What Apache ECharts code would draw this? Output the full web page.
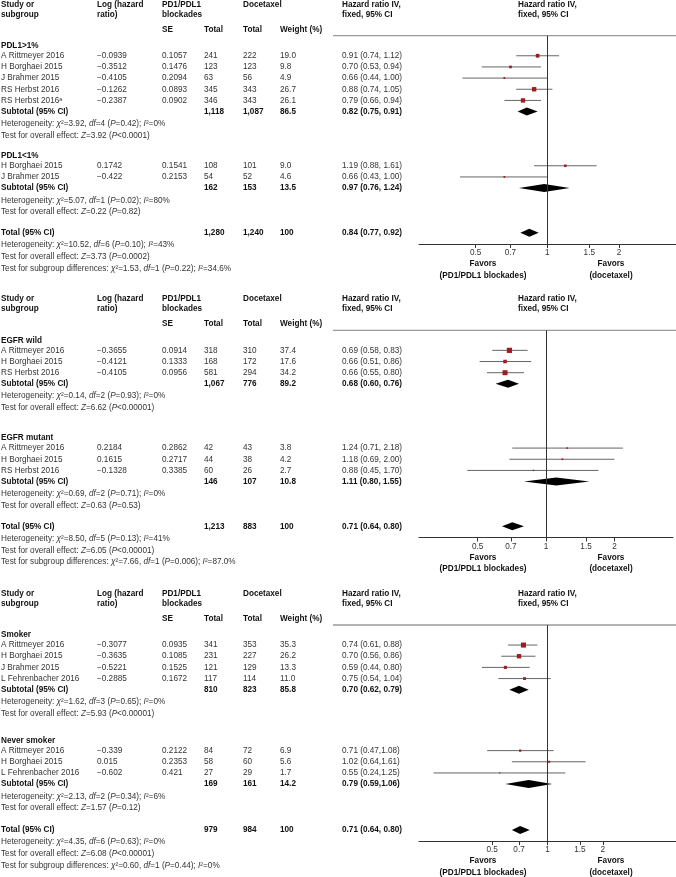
<!DOCTYPE html>
<html><head><meta charset="utf-8">
<script src="https://cdn.jsdelivr.net/npm/echarts@6/dist/echarts.min.js"></script>
<style>html,body{margin:0;padding:0;background:#fff}#c{width:676px;height:877px}</style>
</head><body><div id="c"></div><script>
// ================= DATA =================
// Panel 1 – PD-L1 expression
const p1Groups = ['PDL1>1%', 'PDL1<1%'];
const p1Study = ['A Rittmeyer 2016','H Borghaei 2015','J Brahmer 2015','RS Herbst 2016','RS Herbst 2016\u1d43','H Borghaei 2015','J Brahmer 2015'];
const p1GroupOf = [0,0,0,0,0,1,1];
const p1LogHR = ['\u22120.0939','\u22120.3512','\u22120.4105','\u22120.1262','\u22120.2387','0.1742','\u22120.422'];
const p1SE = ['0.1057','0.1476','0.2094','0.0893','0.0902','0.1541','0.2153'];
const p1NTrt = ['241','123','63','345','346','108','54'];
const p1NCtl = ['222','123','56','343','343','101','52'];
const p1Weight = [19.0, 9.8, 4.9, 26.7, 26.1, 9.0, 4.6];
const p1HR = [0.91, 0.70, 0.66, 0.88, 0.79, 1.19, 0.66];
const p1Lo = [0.74, 0.53, 0.44, 0.74, 0.66, 0.88, 0.43];
const p1Hi = [1.12, 0.94, 1.00, 1.05, 0.94, 1.61, 1.00];
const p1SubNTrt = ['1,118','162'];
const p1SubNCtl = ['1,087','153'];
const p1SubWeight = ['86.5','13.5'];
const p1SubHR = [0.82, 0.97];
const p1SubLo = [0.75, 0.76];
const p1SubHi = [0.91, 1.24];
const p1SubHet = [['3.92','4','=0.42','0%'], ['5.07','1','=0.02','80%']];
const p1SubZ = [['3.92','<0.0001'], ['0.22','=0.82']];
const p1Total = ['1,280','1,240','100'];
const p1TotHR = [0.84, 0.77, 0.92];
const p1TotHet = ['10.52','6','=0.10','43%'];
const p1TotZ = ['3.73','=0.0002'];
const p1SubDiff = ['1.53','1','=0.22','34.6%'];

// Panel 2 – EGFR status
const p2Groups = ['EGFR wild', 'EGFR mutant'];
const p2Study = ['A Rittmeyer 2016','H Borghaei 2015','RS Herbst 2016','A Rittmeyer 2016','H Borghaei 2015','RS Herbst 2016'];
const p2GroupOf = [0,0,0,1,1,1];
const p2LogHR = ['\u22120.3655','\u22120.4121','\u22120.4105','0.2184','0.1615','\u22120.1328'];
const p2SE = ['0.0914','0.1333','0.0956','0.2862','0.2717','0.3385'];
const p2NTrt = ['318','168','581','42','44','60'];
const p2NCtl = ['310','172','294','43','38','26'];
const p2Weight = [37.4, 17.6, 34.2, 3.8, 4.2, 2.7];
const p2HR = [0.69, 0.66, 0.66, 1.24, 1.18, 0.88];
const p2Lo = [0.58, 0.51, 0.55, 0.71, 0.69, 0.45];
const p2Hi = [0.83, 0.86, 0.80, 2.18, 2.00, 1.70];
const p2SubNTrt = ['1,067','146'];
const p2SubNCtl = ['776','107'];
const p2SubWeight = ['89.2','10.8'];
const p2SubHR = [0.68, 1.11];
const p2SubLo = [0.60, 0.80];
const p2SubHi = [0.76, 1.55];
const p2SubHet = [['0.14','2','=0.93','0%'], ['0.69','2','=0.71','0%']];
const p2SubZ = [['6.62','<0.00001'], ['0.63','=0.53']];
const p2Total = ['1,213','883','100'];
const p2TotHR = [0.71, 0.64, 0.80];
const p2TotHet = ['8.50','5','=0.13','41%'];
const p2TotZ = ['6.05','<0.00001'];
const p2SubDiff = ['7.66','1','=0.006','87.0%'];

// Panel 3 – smoking status
const p3Groups = ['Smoker', 'Never smoker'];
const p3Study = ['A Rittmeyer 2016','H Borghaei 2015','J Brahmer 2015','L Fehrenbacher 2016','A Rittmeyer 2016','H Borghaei 2015','L Fehrenbacher 2016'];
const p3GroupOf = [0,0,0,0,1,1,1];
const p3LogHR = ['\u22120.3077','\u22120.3635','\u22120.5221','\u22120.2885','\u22120.339','0.015','\u22120.602'];
const p3SE = ['0.0935','0.1085','0.1525','0.1672','0.2122','0.2353','0.421'];
const p3NTrt = ['341','231','121','117','84','58','27'];
const p3NCtl = ['353','227','129','114','72','60','29'];
const p3Weight = [35.3, 26.2, 13.3, 11.0, 6.9, 5.6, 1.7];
const p3HR = [0.74, 0.70, 0.59, 0.75, 0.71, 1.02, 0.55];
const p3Lo = [0.61, 0.56, 0.44, 0.54, 0.47, 0.64, 0.24];
const p3Hi = [0.88, 0.86, 0.80, 1.04, 1.08, 1.61, 1.25];
const p3SubNTrt = ['810','169'];
const p3SubNCtl = ['823','161'];
const p3SubWeight = ['85.8','14.2'];
const p3SubHR = [0.70, 0.79];
const p3SubLo = [0.62, 0.59];
const p3SubHi = [0.79, 1.06];
const p3SubHet = [['1.62','3','=0.65','0%'], ['2.13','2','=0.34','6%']];
const p3SubZ = [['5.93','<0.00001'], ['1.57','=0.12']];
const p3Total = ['979','984','100'];
const p3TotHR = [0.71, 0.64, 0.80];
const p3TotHet = ['4.35','6','=0.63','0%'];
const p3TotZ = ['6.08','<0.00001'];
const p3SubDiff = ['0.60','1','=0.44','0%'];
const p3CiSep = [', ', ','];   // separator used in the CI text per subgroup

// Axis tick values and header labels
const axisTicks = [0.5, 0.7, 1, 1.5, 2];
const favorsLeft = ['Favors', '(PD1/PDL1 blockades)'];
const favorsRight = ['Favors', '(docetaxel)'];

// ================= PANEL CONFIG =================
const panels = [
  {groups:p1Groups, study:p1Study, groupOf:p1GroupOf, logHR:p1LogHR, se:p1SE, nT:p1NTrt, nC:p1NCtl, w:p1Weight,
   hr:p1HR, lo:p1Lo, hi:p1Hi, subNT:p1SubNTrt, subNC:p1SubNCtl, subW:p1SubWeight, subHR:p1SubHR, subLo:p1SubLo, subHi:p1SubHi,
   subHet:p1SubHet, subZ:p1SubZ, total:p1Total, totHR:p1TotHR, totHet:p1TotHet, totZ:p1TotZ, diff:p1SubDiff, sep:[', ',', '],
   row0:45.7, groupGap:1.8, totalGap:1.85, xMin:0.289, xMax:3.47, right:0},
  {groups:p2Groups, study:p2Study, groupOf:p2GroupOf, logHR:p2LogHR, se:p2SE, nT:p2NTrt, nC:p2NCtl, w:p2Weight,
   hr:p2HR, lo:p2Lo, hi:p2Hi, subNT:p2SubNTrt, subNC:p2SubNCtl, subW:p2SubWeight, subHR:p2SubHR, subLo:p2SubLo, subHi:p2SubHi,
   subHet:p2SubHet, subZ:p2SubZ, total:p2Total, totHR:p2TotHR, totHet:p2TotHet, totZ:p2TotZ, diff:p2SubDiff, sep:[', ',', '],
   row0:340.3, groupGap:2.7, totalGap:1.85, xMin:0.276, xMax:3.62, right:3},
  {groups:p3Groups, study:p3Study, groupOf:p3GroupOf, logHR:p3LogHR, se:p3SE, nT:p3NTrt, nC:p3NCtl, w:p3Weight,
   hr:p3HR, lo:p3Lo, hi:p3Hi, subNT:p3SubNTrt, subNC:p3SubNCtl, subW:p3SubWeight, subHR:p3SubHR, subLo:p3SubLo, subHi:p3SubHi,
   subHet:p3SubHet, subZ:p3SubZ, total:p3Total, totHR:p3TotHR, totHet:p3TotHet, totZ:p3TotZ, diff:p3SubDiff, sep:p3CiSep,
   row0:635, groupGap:2.4, totalGap:1.95, xMin:0.2, xMax:5, right:0}
];

const UNIT = 11.17;         // px per table row
const RULE_OFF = 10;        // header rule above first row (px)
const GRID_LEFT = 419;
const FONT = '"Liberation Sans", Arial, Helvetica, sans-serif';
const FS = 8.2;

function layout(P) {
  const rows = []; let r = 0;
  P.groups.forEach((g, gi) => {
    if (gi > 0) r += P.groupGap;
    rows.push({kind:'group', r, gi}); r += 0.9;
    P.study.forEach((s, si) => { if (P.groupOf[si] === gi) { rows.push({kind:'study', r, si, gi}); r += 1; } });
    rows.push({kind:'sub', r, gi}); r += 1.1;
    rows.push({kind:'het', r, gi}); r += 1.05;
    rows.push({kind:'z', r, gi});
  });
  r += P.totalGap;
  const totalR = r;
  rows.push({kind:'total', r}); r += 1.1;
  rows.push({kind:'thet', r}); r += 1.05;
  rows.push({kind:'tz', r}); r += 1.05;
  rows.push({kind:'diff', r});
  return {rows, totalR};
}

const layouts = panels.map(layout);

const chart = echarts.init(document.getElementById('c'), null, {renderer:'canvas'});

const grids = [], xAxes = [], yAxes = [], series = [];
panels.forEach((P, pi) => {
  const L = layouts[pi];
  const yMin = -RULE_OFF / UNIT;
  const yMax = L.totalR + 1.0;
  const top = P.row0 - RULE_OFF;
  const height = (yMax - yMin) * UNIT;
  grids.push({left: GRID_LEFT, right: P.right, top: top, height: height, containLabel: false});
  xAxes.push({
    gridIndex: pi, type: 'log', min: P.xMin, max: P.xMax, position: 'bottom',
    axisLine: {show: true, onZero: false, lineStyle: {color: '#333', width: 1}},
    axisTick: {show: true, customValues: axisTicks, length: 4, lineStyle: {color: '#333', width: 1}},
    axisLabel: {show: true, customValues: axisTicks, fontSize: FS, fontFamily: FONT, color: '#333', margin: 5,
                formatter: v => String(Math.round(v * 100) / 100)},
    splitLine: {show: false}, minorTick: {show: false}
  });
  yAxes.push({gridIndex: pi, type: 'value', inverse: true, min: yMin, max: yMax, show: false});
  const data = [];
  L.rows.forEach(row => {
    if (row.kind === 'study') data.push([P.hr[row.si], P.lo[row.si], P.hi[row.si], row.r, P.w[row.si], 0]);
    if (row.kind === 'sub') data.push([P.subHR[row.gi], P.subLo[row.gi], P.subHi[row.gi], row.r, 0, 1]);
    if (row.kind === 'total') data.push([P.totHR[0], P.totHR[1], P.totHR[2], row.r, 0, 1]);
  });
  series.push({
    type: 'custom', xAxisIndex: pi, yAxisIndex: pi, data: data, silent: true, animation: false, clip: false,
    renderItem: (params, api) => {
      const y = api.value(3);
      const c = api.coord([api.value(0), y]);
      const a = api.coord([api.value(1), y]);
      const b = api.coord([api.value(2), y]);
      if (api.value(5) === 1) {
        return {type: 'polygon', shape: {points: [[a[0], c[1]], [c[0], c[1] - 4], [b[0], c[1]], [c[0], c[1] + 4]]},
                style: {fill: '#000'}};
      }
      const s = Math.max(1.3, 0.85 * Math.sqrt(api.value(4)));
      return {type: 'group', children: [
        {type: 'line', shape: {x1: a[0], y1: c[1], x2: b[0], y2: c[1]}, style: {stroke: '#555', lineWidth: 0.9}},
        {type: 'rect', shape: {x: c[0] - s / 2, y: c[1] - s / 2, width: s, height: s}, style: {fill: '#a01a22'}}
      ]};
    },
    markLine: {silent: true, symbol: 'none', animation: false, label: {show: false},
               lineStyle: {color: '#333', width: 1, type: 'solid'}, data: [{xAxis: 1}]}
  });
});

chart.setOption({animation: false, grid: grids, xAxis: xAxes, yAxis: yAxes, series: series});

// ================= TABLE TEXT =================
const COL = {study: 1, log: 97, se: 162, nT: 204, nC: 243, w: 280, hr: 342, hr2: 518};
const graphics = [];
const rich = {
  i: {fontStyle: 'italic', fontSize: FS, fontFamily: FONT, fill: '#333'}
};
function txt(x, y, text, bold, align) {
  graphics.push({type: 'text', x: x, y: y, silent: true,
    style: {text: text, fontSize: FS, fontFamily: FONT, fontWeight: bold ? 'bold' : 'normal',
            fill: bold ? '#111' : '#333', verticalAlign: 'middle', align: align || 'left', rich: rich}});
}
function ci(hr, lo, hi, sep) { return hr.toFixed(2) + ' (' + lo.toFixed(2) + sep + hi.toFixed(2) + ')'; }
function hetText(h) { return 'Heterogeneity: {i|\u03c7}\u00b2=' + h[0] + ', {i|df}=' + h[1] + ' ({i|P}' + h[2] + '); {i|I}\u00b2=' + h[3]; }
function zText(z) { return 'Test for overall effect: {i|Z}=' + z[0] + ' ({i|P}' + z[1] + ')'; }
function diffText(h) { return 'Test for subgroup differences: {i|\u03c7}\u00b2=' + h[0] + ', {i|df}=' + h[1] + ' ({i|P}' + h[2] + '); {i|I}\u00b2=' + h[3]; }

panels.forEach((P, pi) => {
  const L = layouts[pi];
  const Y = r => chart.convertToPixel({yAxisIndex: pi}, r);
  const y0 = Y(0);
  // header
  const h1 = y0 - 41.2, h2 = y0 - 31.4, h3 = y0 - 16.2;
  txt(COL.study, h1, 'Study or', true); txt(COL.study, h2, 'subgroup', true);
  txt(COL.log, h1, 'Log (hazard', true); txt(COL.log, h2, 'ratio)', true);
  txt(COL.se, h1, 'PD1/PDL1', true); txt(COL.se, h2, 'blockades', true);
  txt(COL.nC, h1, 'Docetaxel', true);
  txt(COL.se, h3, 'SE', true); txt(COL.nT, h3, 'Total', true); txt(COL.nC, h3, 'Total', true); txt(COL.w, h3, 'Weight (%)', true);
  txt(COL.hr, h1, 'Hazard ratio IV,', true); txt(COL.hr, h2, 'fixed, 95% CI', true);
  txt(COL.hr2, h1, 'Hazard ratio IV,', true); txt(COL.hr2, h2, 'fixed, 95% CI', true);
  // header rule
  const ry = Y(-RULE_OFF / UNIT);
  graphics.push({type: 'line', silent: true, shape: {x1: 333, y1: ry, x2: 676, y2: ry}, style: {stroke: '#9a9a9a', lineWidth: 1.3}});
  // body
  L.rows.forEach(row => {
    const y = Y(row.r);
    switch (row.kind) {
      case 'group': txt(COL.study, y, P.groups[row.gi], true); break;
      case 'study': {
        const i = row.si;
        txt(COL.study, y, P.study[i]); txt(COL.log, y, P.logHR[i]); txt(COL.se, y, P.se[i]);
        txt(COL.nT, y, P.nT[i]); txt(COL.nC, y, P.nC[i]); txt(COL.w, y, P.w[i].toFixed(1));
        txt(COL.hr, y, ci(P.hr[i], P.lo[i], P.hi[i], P.sep[row.gi]));
        break;
      }
      case 'sub':
        txt(COL.study, y, 'Subtotal (95% CI)', true);
        txt(COL.nT, y, P.subNT[row.gi], true); txt(COL.nC, y, P.subNC[row.gi], true); txt(COL.w, y, P.subW[row.gi], true);
        txt(COL.hr, y, ci(P.subHR[row.gi], P.subLo[row.gi], P.subHi[row.gi], P.sep[row.gi]), true);
        break;
      case 'het': txt(COL.study, y, hetText(P.subHet[row.gi])); break;
      case 'z': txt(COL.study, y, zText(P.subZ[row.gi])); break;
      case 'total':
        txt(COL.study, y, 'Total (95% CI)', true);
        txt(COL.nT, y, P.total[0], true); txt(COL.nC, y, P.total[1], true); txt(COL.w, y, P.total[2], true);
        txt(COL.hr, y, ci(P.totHR[0], P.totHR[1], P.totHR[2], ', '), true);
        break;
      case 'thet': txt(COL.study, y, hetText(P.totHet)); break;
      case 'tz': txt(COL.study, y, zText(P.totZ)); break;
      case 'diff': txt(COL.study, y, diffText(P.diff)); break;
    }
  });
  // favors labels below axis
  const ay = Y(L.totalR + 1.0);
  [0, 1].forEach(k => {
    txt(483, ay + 20 + k * 11.5, favorsLeft[k], true, 'center');
    txt(611, ay + 20 + k * 11.5, favorsRight[k], true, 'center');
  });
});

chart.setOption({graphic: graphics});
</script></body></html>
